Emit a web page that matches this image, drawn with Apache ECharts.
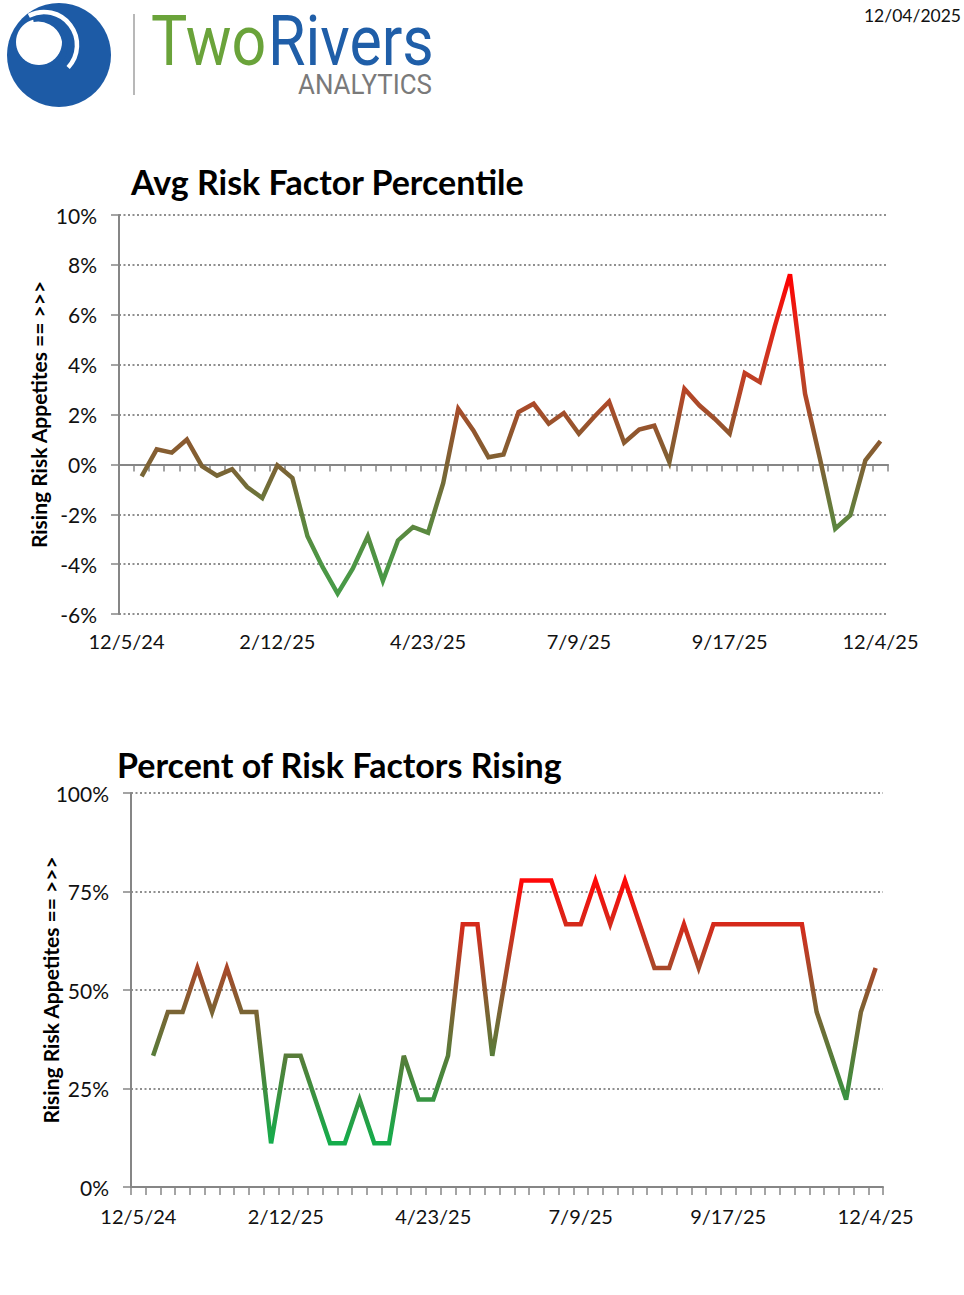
<!DOCTYPE html>
<html>
<head>
<meta charset="utf-8">
<script src="https://cdn.jsdelivr.net/npm/echarts@6/dist/echarts.min.js"></script>
<style>
html,body{margin:0;padding:0;background:#fff;}
#chart{width:964px;height:1295px;}
</style>
</head>
<body>
<div id="chart"></div>
<script>
// Weekly category dates (only every 10th is labelled on the axis)
const categories = [
  '12/5/24','12/12/24','12/19/24','12/26/24','1/2/25','1/8/25','1/15/25','1/22/25','1/29/25','2/5/25',
  '2/12/25','2/19/25','2/26/25','3/5/25','3/12/25','3/19/25','3/26/25','4/2/25','4/9/25','4/16/25',
  '4/23/25','4/30/25','5/7/25','5/14/25','5/21/25','5/28/25','6/4/25','6/11/25','6/18/25','6/25/25',
  '7/9/25','7/16/25','7/23/25','7/30/25','8/6/25','8/13/25','8/20/25','8/27/25','9/3/25','9/10/25',
  '9/17/25','9/24/25','10/1/25','10/8/25','10/15/25','10/22/25','10/29/25','11/5/25','11/12/25','11/19/25',
  '12/4/25'
];

// Avg Risk Factor Percentile (%), first week blank
const avgRiskPct = [
  null,
  -0.48, 0.60, 0.47, 1.00, -0.07, -0.45, -0.19, -0.91, -1.35, -0.04,
  -0.55, -2.88, -4.11, -5.18, -4.18, -2.88, -4.67, -3.05, -2.51, -2.74,
  -0.75, 2.23, 1.36, 0.29, 0.40, 2.10, 2.43, 1.63, 2.06, 1.23,
  1.90, 2.52, 0.87, 1.40, 1.55, 0.09, 3.03, 2.36, 1.83, 1.23,
  3.66, 3.30, 5.55, 7.62, 2.83, 0.20, -2.58, -2.04, 0.16, 0.93
];

// Percent of Risk Factors Rising (%), first week blank
const pctRising = [
  null,
  33.3, 44.4, 44.4, 55.6, 44.4, 55.6, 44.4, 44.4, 11.1, 33.3,
  33.3, 22.2, 11.1, 11.1, 22.2, 11.1, 11.1, 33.3, 22.2, 22.2,
  33.3, 66.7, 66.7, 33.3, 55.6, 77.8, 77.8, 77.8, 66.7, 66.7,
  77.8, 66.7, 77.8, 66.7, 55.6, 55.6, 66.7, 55.6, 66.7, 66.7,
  66.7, 66.7, 66.7, 66.7, 66.7, 44.4, 33.3, 22.2, 44.4, 55.6
];

const topTicks = { min: -6, max: 10, interval: 2 };
const bottomTicks = { min: 0, max: 100, interval: 25 };

const titleTop = 'Avg Risk Factor Percentile';
const titleBottom = 'Percent of Risk Factors Rising';
const yAxisTitle = 'Rising Risk Appetites == >>>';
const dateText = '12/04/2025';

const FONT = 'Lato, "Open Sans", sans-serif';
const axisGray = '#868686';
const gridGray = '#8f8f8f';
const labelColor = '#111';

const chart = echarts.init(document.getElementById('chart'), null, { renderer: 'svg' });

function valueAxis(gridIndex, t, nameGap) {
  return {
    type: 'value', gridIndex: gridIndex,
    min: t.min, max: t.max, interval: t.interval,
    name: yAxisTitle, nameLocation: 'middle', nameRotate: 90, nameGap: nameGap,
    nameMoveOverlap: false,
    nameTextStyle: { fontFamily: FONT, fontWeight: 'bold', fontSize: 21, color: '#000' },
    axisLine: { show: true, lineStyle: { color: axisGray, width: 2 } },
    axisTick: { show: true, length: 8, lineStyle: { color: axisGray, width: 1.5 } },
    axisLabel: { formatter: '{value}%', fontFamily: FONT, fontSize: 21, color: labelColor, margin: 22 },
    splitLine: { show: true, lineStyle: { color: gridGray, width: 2, type: [2, 2.5] } }
  };
}

const option = {
  animation: false,
  backgroundColor: '#fff',
  title: [
    { text: titleTop, left: 131, top: 164, padding: 0,
      textStyle: { fontFamily: FONT, fontWeight: 'bold', fontSize: 34, color: '#000' } },
    { text: titleBottom, left: 117, top: 747, padding: 0,
      textStyle: { fontFamily: FONT, fontWeight: 'bold', fontSize: 34, color: '#000' } }
  ],
  grid: [
    { left: 119, top: 215, width: 769, height: 399, containLabel: false },
    { left: 131, top: 793, width: 752, height: 394, containLabel: false }
  ],
  xAxis: [
    { type: 'category', gridIndex: 0, data: categories, boundaryGap: true, position: 'bottom',
      axisLine: { show: false, onZero: false }, axisTick: { show: false },
      axisLabel: { interval: 9, fontFamily: FONT, fontSize: 20, color: labelColor, margin: 17 },
      splitLine: { show: false } },
    { type: 'category', gridIndex: 0, data: categories, boundaryGap: true, position: 'bottom',
      axisLine: { show: true, onZero: true, lineStyle: { color: axisGray, width: 2 } },
      axisTick: { show: true, interval: 0, length: 7, lineStyle: { color: axisGray, width: 1.5 } },
      axisLabel: { show: false }, splitLine: { show: false } },
    { type: 'category', gridIndex: 1, data: categories, boundaryGap: true, position: 'bottom',
      axisLine: { show: true, onZero: false, lineStyle: { color: axisGray, width: 2 } },
      axisTick: { show: true, interval: 0, length: 8, lineStyle: { color: axisGray, width: 1.5 } },
      axisLabel: { interval: 9, fontFamily: FONT, fontSize: 20, color: labelColor, margin: 19 },
      splitLine: { show: false } }
  ],
  yAxis: [ valueAxis(0, topTicks, 70), valueAxis(1, bottomTicks, 70) ],
  visualMap: [
    { type: 'continuous', show: false, seriesIndex: 0, dimension: 1, min: -5.2, max: 7.6,
      inRange: { color: ['#479b48', '#4f9444', '#62803d', '#786636', '#8f572e', '#b44628', '#d03520', '#e81e14', '#ff0000'] } },
    { type: 'continuous', show: false, seriesIndex: 1, dimension: 1, min: 11.1, max: 77.8,
      inRange: { color: ['#14ad4c', '#47883c', '#7a6434', '#c03a24', '#ff0808'] } }
  ],
  series: [
    { name: titleTop, type: 'line', xAxisIndex: 0, yAxisIndex: 0, data: avgRiskPct,
      showSymbol: false, symbol: 'none', lineStyle: { width: 4.5, join: 'miter' } },
    { name: titleBottom, type: 'line', xAxisIndex: 2, yAxisIndex: 1, data: pctRising,
      showSymbol: false, symbol: 'none', lineStyle: { width: 4.5, join: 'miter' } }
  ],
  graphic: [
    { type: 'circle', shape: { cx: 59, cy: 55, r: 52 }, style: { fill: '#1d5ba6' } },
    { type: 'circle', shape: { cx: 39, cy: 42, r: 23 }, style: { fill: '#fff' } },
    { type: 'arc', shape: { cx: 44, cy: 45, r: 33, startAngle: -2.05, endAngle: 0.75, clockwise: true },
      style: { stroke: '#fff', lineWidth: 4.5, fill: null } },
    { type: 'arc', shape: { cx: 38, cy: 46, r: 27, startAngle: -1.75, endAngle: 0.95, clockwise: true },
      style: { stroke: '#1d5ba6', lineWidth: 5, fill: null } },
    { type: 'line', shape: { x1: 134, y1: 14, x2: 134, y2: 95 }, style: { stroke: '#a0a0a0', lineWidth: 1.5 } },
    { type: 'text', x: 151, y: 6, scaleX: 0.87,
      style: { text: 'Two', fill: '#6aa33a', font: '70px Roboto, sans-serif', verticalAlign: 'top' } },
    { type: 'text', x: 268, y: 6, scaleX: 0.87,
      style: { text: 'Rivers', fill: '#1f5ea8', font: '70px Roboto, sans-serif', verticalAlign: 'top' } },
    { type: 'text', x: 298, y: 71, scaleX: 0.96,
      style: { text: 'ANALYTICS', fill: '#7a7a7a', font: '27px Roboto, sans-serif', verticalAlign: 'top' } },
    { type: 'text', x: 961, y: 6,
      style: { text: dateText, fill: '#111', font: '17.5px Lato, sans-serif', verticalAlign: 'top', align: 'right' } }
  ]
};

chart.setOption(option);
</script>
</body>
</html>
